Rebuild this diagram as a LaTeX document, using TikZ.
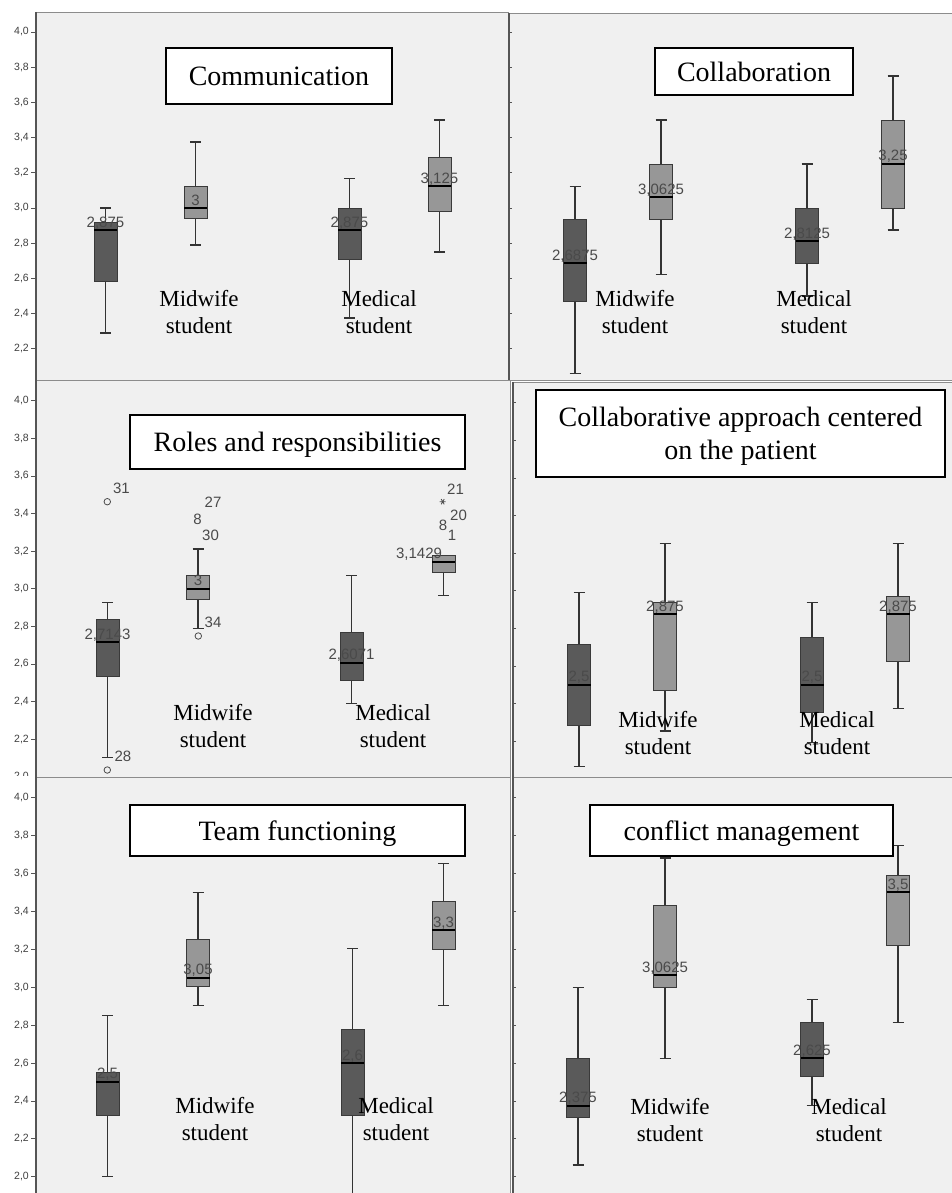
\documentclass[tikz,border=0pt]{standalone}
\usepackage{fontspec}
\setmainfont{Liberation Serif}
\newfontfamily\numfont{Liberation Sans}
\usetikzlibrary{positioning}
\definecolor{plotbg}{HTML}{F0F0F0}
\definecolor{boxdark}{HTML}{5A5A5A}
\definecolor{boxlight}{HTML}{979797}
\definecolor{boxedge}{HTML}{3A3A3A}
\definecolor{framegray}{HTML}{8C8C8C}
\definecolor{axisgray}{HTML}{555555}
\definecolor{valgray}{HTML}{4A4A4A}

% name, x, low whisker, q1, median, q3, high whisker, fill, median value
\newcommand{\bxp}[9]{%
  \draw[whisk] (#2,#3) -- (#2,#4) (#2,#6) -- (#2,#7);
  \draw[whisk] (#2-5.5,#3) -- (#2+5.5,#3) (#2-5.5,#7) -- (#2+5.5,#7);
  \filldraw[fill=#8,draw=boxedge,line width=0.8pt] (#2-11.5,#4) rectangle (#2+11.5,#6);
  \draw[medln] (#2-11.5,#5) -- (#2+11.5,#5);
  \node[medval] (#1) at (#2,#5) {#9};
}
\newcommand{\yvalue}[1]{\pgfmathprintnumber[fixed,fixed zerofill,precision=1,use comma,assume math mode=true]{#1}}

\begin{document}
\begin{tikzpicture}[x=1pt,y=-1pt,
  whisk/.style={draw=black!80,line width=1.1pt},
  medln/.style={draw=black,line width=2pt},
  medval/.style={anchor=base,yshift=3pt,inner sep=0pt,text=valgray,font=\numfont\fontsize{15}{15}\selectfont},
  ttl/.style={draw=black,line width=1.3pt,fill=white,align=center,inner sep=0pt,text depth=0pt,font=\fontsize{28}{33}\selectfont},
  grp/.style={align=center,inner sep=0pt,font=\fontsize{23}{27}\selectfont},
  yval/.style={anchor=east,inner sep=0pt,text=black!75,font=\numfont\fontsize{10.5}{10.5}\selectfont},
  pnl/.style={fill=plotbg,draw=framegray,line width=0.8pt},
  yaxis/.style={draw=axisgray,line width=1.3pt},
  outl/.style={circle,draw=black!70,line width=0.8pt,inner sep=0pt,minimum size=6.5pt},
  outnum/.style={inner sep=0pt,text=valgray,font=\numfont\fontsize{15}{15}\selectfont}]
\useasboundingbox (0,0) rectangle (951,1193);
\fill[white] (0,0) rectangle (951,1193);

% Communication
\draw[pnl] (36,12) rectangle (508,380);
\draw[yaxis] (36,12) -- (36,380);
\begin{scope}[yshift=-736pt,y=176pt]
\foreach \v [count=\i] in {2.2,2.4,...,4.01} {
  \draw[axisgray,line width=0.8pt] (31,\v) -- (36,\v);
  \node[yval] (ya\i) at (29,\v) {\yvalue{\v}};
}
\bxp{va}{105.5}{2.29}{2.585}{2.875}{2.92}{3.0}{boxdark}{2,875}
\bxp{vb}{195.5}{2.79}{2.94}{3.0}{3.125}{3.375}{boxlight}{3}
\bxp{vc}{349.5}{2.375}{2.71}{2.875}{3.0}{3.17}{boxdark}{2,875}
\bxp{vd}{439.5}{2.75}{2.98}{3.125}{3.29}{3.5}{boxlight}{3,125}
\end{scope}
\node[grp] (mwa) at (199,312) {Midwife\\student};
\node[grp] (mda) at (379,312) {Medical\\student};
\node[ttl,minimum width=226pt,minimum height=56pt] (tcomm) at (279,76) {Communication};

% Collaboration
\draw[pnl] (509,13) rectangle (952,380);
\draw[yaxis] (509,13) -- (509,380);
\begin{scope}[yshift=-736pt,y=176pt]
\foreach \v in {2.2,2.4,...,4.01} \draw[axisgray,line width=0.8pt] (509,\v) -- (512,\v);
\bxp{ve}{575}{2.061}{2.467}{2.6875}{2.936}{3.121}{boxdark}{2,6875}
\bxp{vf}{661}{2.623}{2.936}{3.0625}{3.25}{3.5}{boxlight}{3,0625}
\bxp{vg}{807}{2.5}{2.686}{2.8125}{3.0}{3.25}{boxdark}{2,8125}
\bxp{vh}{893}{2.875}{3.0}{3.25}{3.5}{3.75}{boxlight}{3,25}
\end{scope}
\node[grp] (mwb) at (635,312) {Midwife\\student};
\node[grp] (mdb) at (814,312) {Medical\\student};
\node[ttl,minimum width=198pt,minimum height=47pt] (tcoll) at (754,71.5) {Collaboration};

% Roles and responsibilities
\draw[pnl] (36,380) rectangle (510,777);
\draw[yaxis] (36,380) -- (36,777);
\begin{scope}[yshift=-1152.7pt,y=188pt]
\foreach \v [count=\i] in {2.0,2.2,...,4.01} {
  \draw[axisgray,line width=0.8pt] (31,\v) -- (36,\v);
  \node[yval] (yb\i) at (29,\v) {\yvalue{\v}};
}
\bxp{vi}{107.5}{2.103}{2.536}{2.7143}{2.837}{2.926}{boxdark}{2,7143}
\bxp{vj}{198}{2.786}{2.944}{3.0}{3.069}{3.211}{boxlight}{3}
\bxp{vk}{351.5}{2.39}{2.514}{2.6071}{2.766}{3.069}{boxdark}{2,6071}
\begin{scope}[medval/.append style={xshift=-24.5pt}]
\bxp{vl}{443.5}{2.963}{3.087}{3.1429}{3.179}{3.179}{boxlight}{3,1429}
\end{scope}
\end{scope}
\node[outl] (o31) at (107.3,501.7) {};
\node[outl] (o28) at (107.3,770) {};
\node[outl] (o34) at (198.3,636) {};
\node[outnum] (o27) at (197.5,519.3) {8};
\node[outnum] (o20) at (443,525) {8};
\draw[black!70,line width=0.8pt] (442.7,501.7) +(-3,0) -- +(3,0) +(-1.5,-2.6) -- +(1.5,2.6) +(-1.5,2.6) -- +(1.5,-2.6);
\node[outnum] (n31) at (121.5,488) {31};
\node[outnum] (n28) at (123,756.7) {28};
\node[outnum] (n34) at (213,622.3) {34};
\node[outnum] (n27) at (213,502.3) {27};
\node[outnum] (n30) at (210.5,535.7) {30};
\node[outnum] (n21) at (455.5,489) {21};
\node[outnum] (n20) at (458.5,515) {20};
\node[outnum] (n1) at (452,535.7) {1};
\node[grp] (mwc) at (213,726.5) {Midwife\\student};
\node[grp] (mdc) at (393,726.5) {Medical\\student};
\node[ttl,minimum width=335pt,minimum height=54pt] (troles) at (297.5,442) {Roles and responsibilities};

% Collaborative approach
\draw[pnl] (513,382) rectangle (952,777);
\draw[yaxis] (513,382) -- (513,777);
\begin{scope}[yshift=-1154.7pt,y=188pt]
\foreach \v in {2.2,2.4,...,4.01} \draw[axisgray,line width=0.8pt] (513,\v) -- (516,\v);
\bxp{vm}{579}{2.064}{2.283}{2.5}{2.717}{2.989}{boxdark}{2,5}
\bxp{vn}{665}{2.254}{2.468}{2.875}{2.936}{3.252}{boxlight}{2,875}
\bxp{vo}{812}{2.191}{2.351}{2.5}{2.75}{2.936}{boxdark}{2,5}
\bxp{vp}{898}{2.374}{2.626}{2.875}{2.972}{3.252}{boxlight}{2,875}
\end{scope}
\node[grp] (mwd) at (658,733) {Midwife\\student};
\node[grp] (mdd) at (837,733) {Medical\\student};
\node[ttl,minimum width=409pt,minimum height=87pt] (tcap) at (740.5,433.5) {Collaborative approach centered\\on the patient};

% Team functioning
\fill[white] (0,775.5) rectangle (35,1193);
\draw[pnl] (36,777) rectangle (510,1196);
\draw[yaxis] (36,777) -- (36,1193);
\begin{scope}[yshift=-1555.7pt,y=189.5pt]
\foreach \v [count=\i] in {2.0,2.2,...,4.01} {
  \draw[axisgray,line width=0.8pt] (31,\v) -- (36,\v);
  \node[yval] (yc\i) at (29,\v) {\yvalue{\v}};
}
\bxp{vq}{107.5}{2.0}{2.326}{2.5}{2.551}{2.853}{boxdark}{2,5}
\bxp{vr}{198}{2.902}{3.003}{3.05}{3.253}{3.502}{boxlight}{3,05}
\bxp{vs}{352.5}{1.9}{2.326}{2.6}{2.778}{3.202}{boxdark}{2,6}
\bxp{vt}{443.5}{2.902}{3.202}{3.3}{3.455}{3.652}{boxlight}{3,3}
\end{scope}
\node[grp] (mwe) at (215,1119) {Midwife\\student};
\node[grp] (mde) at (396,1119) {Medical\\student};
\node[ttl,minimum width=335pt,minimum height=51pt] (tteam) at (297.5,830.5) {Team functioning};

% conflict management
\draw[pnl] (513,777) rectangle (952,1196);
\draw[yaxis] (513,777) -- (513,1193);
\begin{scope}[yshift=-1555.7pt,y=189.5pt]
\foreach \v in {2.0,2.2,...,4.01} \draw[axisgray,line width=0.8pt] (513,\v) -- (516,\v);
\bxp{vu}{578}{2.062}{2.311}{2.375}{2.625}{3.0}{boxdark}{2,375}
\bxp{vv}{665}{2.625}{2.997}{3.0625}{3.434}{3.682}{boxlight}{3,0625}
\bxp{vw}{812}{2.378}{2.531}{2.625}{2.813}{2.936}{boxdark}{2,625}
\bxp{vx}{898}{2.813}{3.219}{3.5}{3.592}{3.749}{boxlight}{3,5}
\end{scope}
\node[grp] (mwf) at (670,1120) {Midwife\\student};
\node[grp] (mdf) at (849,1120) {Medical\\student};
\node[ttl,minimum width=303pt,minimum height=51pt] (tconf) at (741.5,830.5) {conflict management};
\end{tikzpicture}
\end{document}
